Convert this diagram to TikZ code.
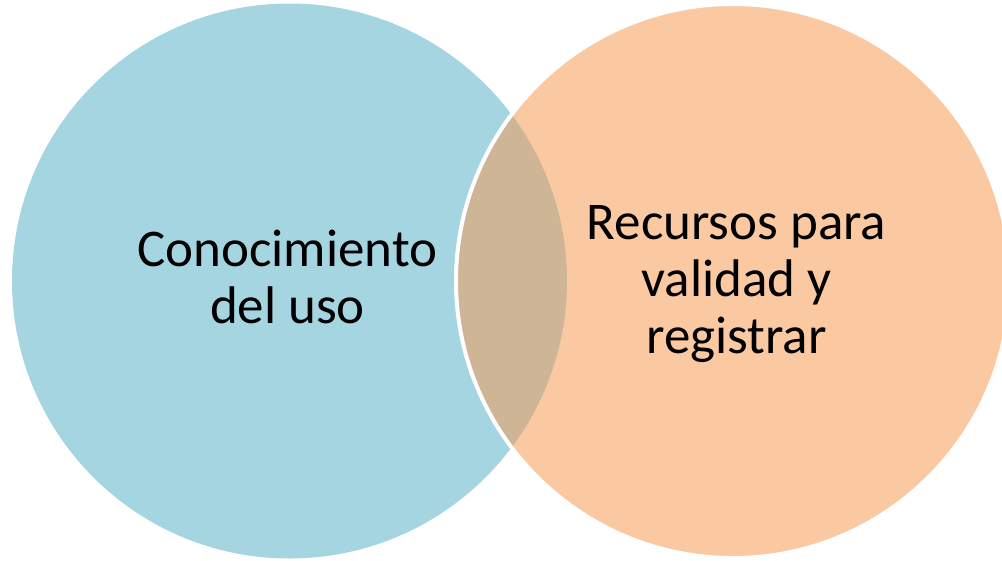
\documentclass[tikz,border=0pt]{standalone}
\usepackage{fontspec}
\setmainfont{Carlito}
\definecolor{cblue}{HTML}{A6D5E2}
\definecolor{corange}{HTML}{FAC9A2}
\definecolor{clens}{HTML}{CEB596}
\begin{document}
\begin{tikzpicture}[x=1pt,y=-1pt,
  lbl/.style={align=center, inner sep=0pt, font=\fontsize{53}{57}\selectfont}]
\useasboundingbox (0,0) rectangle (1002,560);
\clip (0,0) rectangle (1002,560);
\fill[cblue] (289.5,281) circle[radius=277.5];
\fill[corange] (733,281) circle[radius=277];
\begin{scope}
  \clip (289.5,281) circle[radius=277.5];
  \fill[clens] (733,281) circle[radius=277];
\end{scope}
\draw[white, line width=4pt] (733,281) circle[radius=277];
\node[lbl, anchor=base] (left) at (287.5,323) {Conocimiento\\del uso};
\node[lbl, anchor=base] (right) at (736.5,353) {Recursos para\\validad y\\registrar};
\end{tikzpicture}
\end{document}
